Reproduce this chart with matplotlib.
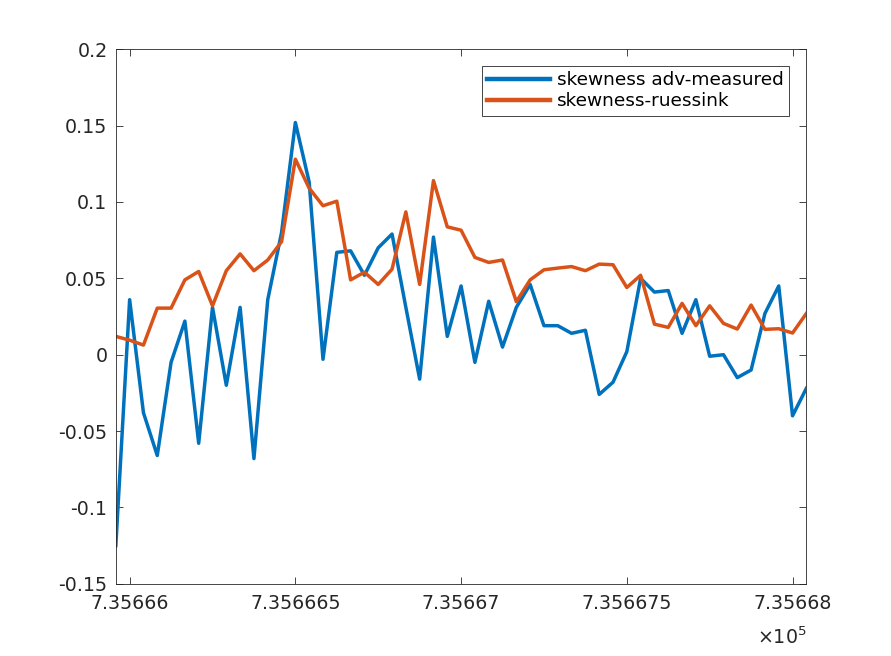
import numpy as np
import matplotlib
matplotlib.use("Agg")
import matplotlib.pyplot as plt
from matplotlib.ticker import FixedLocator, FuncFormatter

plt.rcParams['font.family'] = ['DejaVu Sans']
plt.rcParams['axes.unicode_minus'] = False

# time axis (MATLAB datenum, hourly samples)
t_start = 735666.0
hours = np.arange(-1, 50)
time = t_start + hours / 24.0

skew_adv = [-0.125, 0.036, -0.038, -0.066, -0.005, 0.022, -0.058, 0.031, -0.020, 0.031,
            -0.068, 0.036, 0.080, 0.152, 0.113, -0.003, 0.067, 0.068, 0.052, 0.070,
            0.079, 0.031, -0.016, 0.077, 0.012, 0.045, -0.005, 0.035, 0.005, 0.031,
            0.046, 0.019, 0.019, 0.014, 0.016, -0.026, -0.018, 0.002, 0.050, 0.041,
            0.042, 0.014, 0.036, -0.001, 0.000, -0.015, -0.010, 0.027, 0.045, -0.040,
            -0.022]
skew_ruessink = [0.012, 0.0095, 0.0063, 0.0305, 0.0305, 0.049, 0.0545, 0.032, 0.055, 0.066,
                 0.055, 0.062, 0.074, 0.128, 0.109, 0.0975, 0.1005, 0.049, 0.054, 0.046,
                 0.056, 0.0935, 0.046, 0.114, 0.0837, 0.0815, 0.0637, 0.0604, 0.062, 0.0347,
                 0.049, 0.0556, 0.0567, 0.0577, 0.055, 0.0593, 0.0589, 0.044, 0.052, 0.020,
                 0.0179, 0.0336, 0.019, 0.032, 0.0205, 0.0168, 0.0325, 0.0166, 0.017, 0.0142,
                 0.027]
labels = ['skewness adv-measured', 'skewness-ruessink']
xticks = [735666.0, 735666.5, 735667.0, 735667.5, 735668.0]
yticks = [-0.15, -0.1, -0.05, 0, 0.05, 0.1, 0.15, 0.2]

W, H = 891, 656
fig = plt.figure(figsize=(W / 100, H / 100), dpi=100)
ax = fig.add_axes([0.13, 0.11, 0.775, 0.815])

ax.plot(time, skew_adv, color='#0072BD', lw=2.5, label=labels[0])
ax.plot(time, skew_ruessink, color='#D95319', lw=2.5, label=labels[1])

ax.set_xlim(time[0], time[-1])
ax.set_ylim(-0.15, 0.2)

axc = '#262626'
ax.xaxis.set_major_locator(FixedLocator(xticks))
ax.xaxis.set_major_formatter(FuncFormatter(lambda v, p: '%.7g' % (v / 1e5)))
ax.yaxis.set_major_locator(FixedLocator(yticks))
ax.yaxis.set_major_formatter(FuncFormatter(lambda v, p: '%g' % round(v, 4)))
ax.tick_params(direction='in', length=5, width=0.6, colors=axc, labelsize=13.7,
               top=True, right=True)
ax.tick_params(axis='x', pad=7)
ax.tick_params(axis='y', pad=6)
for s in ax.spines.values():
    s.set_color(axc)
    s.set_linewidth(0.6)

ax.text(1.0, -0.112, r'$\times10^{5}$', transform=ax.transAxes, ha='right',
        va='baseline', fontsize=13.7, color=axc)

leg = ax.legend(loc='upper right', bbox_to_anchor=(789 / W, 1 - 65.7 / H),
                bbox_transform=fig.transFigure, borderaxespad=0, fontsize=13.3,
                frameon=True, fancybox=False, framealpha=1, edgecolor=axc,
                handlelength=3.4, handletextpad=0.35, labelspacing=0.15,
                borderpad=0.3)
leg.get_frame().set_linewidth(0.6)
for line in leg.get_lines():
    line.set_linewidth(3.2)
for txt in leg.get_texts():
    txt.set_color('black')

fig.savefig('out.png', dpi=100)
